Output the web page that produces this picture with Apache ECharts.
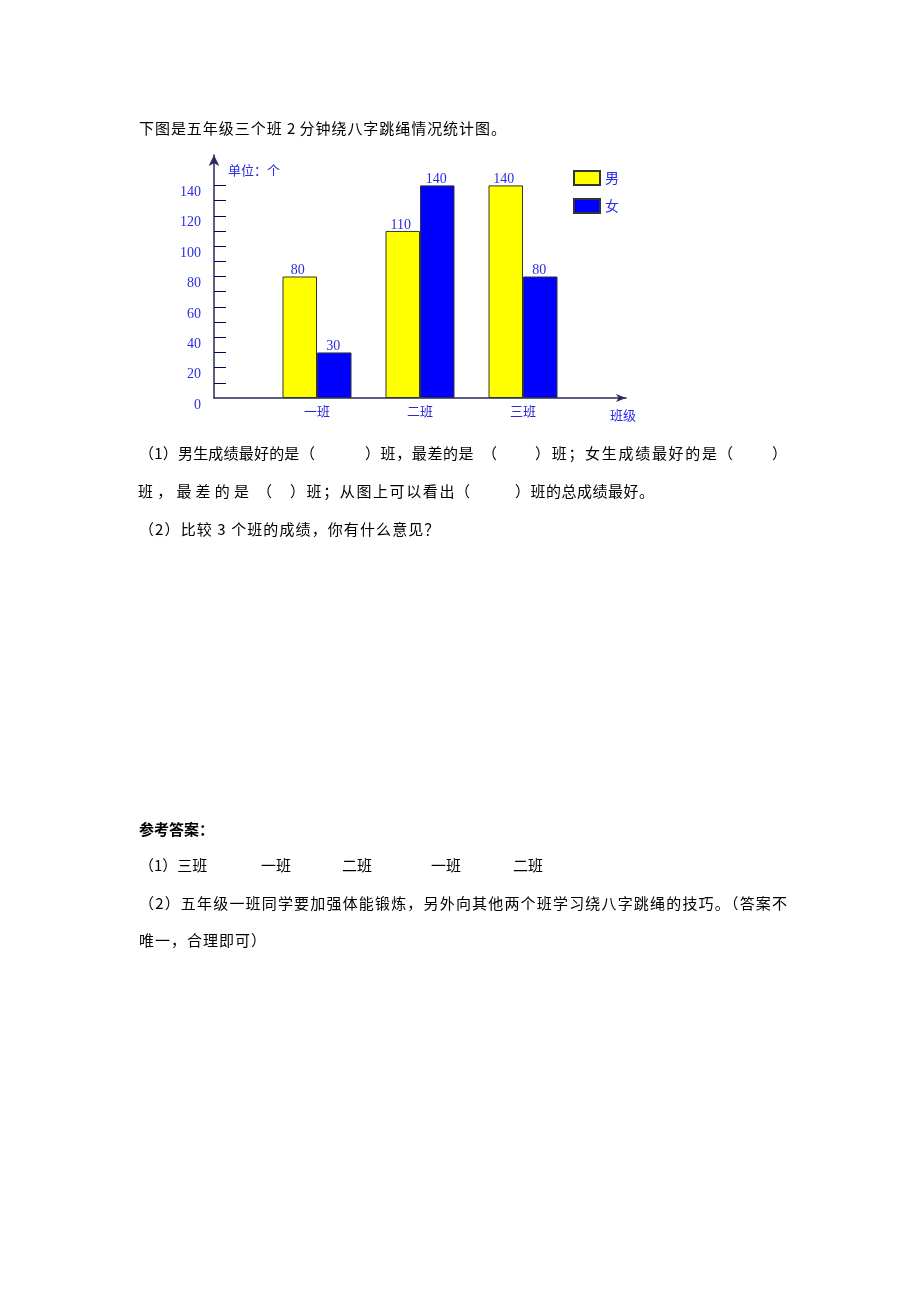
<!DOCTYPE html>
<html><head><meta charset="utf-8">
<script src="https://cdn.jsdelivr.net/npm/echarts@6/dist/echarts.min.js"></script>
<style>
html,body{margin:0;padding:0;background:#fff;}
#page{position:relative;width:920px;height:1302px;overflow:hidden;background:#fff;}
#chart{position:absolute;left:0;top:0;width:920px;height:1302px;}
.t{position:absolute;font-family:"Noto Sans CJK SC",sans-serif;font-size:15px;line-height:20px;color:#000;white-space:pre;}
.j{text-align:justify;text-align-last:justify;white-space:normal;}
</style></head><body>
<div id="page"><div id="chart"></div></div>
<script>
// ---- data ----
const classes = ['一班', '二班', '三班'];
const boys = [80, 110, 140];
const girls = [30, 140, 80];
const seriesNames = ['男', '女'];
const yTickLabels = [0, 20, 40, 60, 80, 100, 120, 140];
const yTicks = [10, 20, 30, 40, 50, 60, 70, 80, 90, 100, 110, 120, 130, 140];
const unitText = '单位：个';
const xName = '班级';

// ---- document text (text, left, centerY, justifyWidth, letterSpacing, bold) ----
const docText = [
  ['下图是五年级三个班 2 分钟绕八字跳绳情况统计图。', 139, 128, 367, 0],
  ['（1）男生成绩最好的是', 139, 453, 0, 0.2],
  ['（', 300, 453, 0, 0],
  ['）班，最差的是', 365, 453, 0, 0.6],
  ['（', 482, 453, 0, 0],
  ['）班；女生成绩最好的是', 535, 453, 0, 1.7],
  ['（', 718, 453, 0, 0],
  ['）', 772, 453, 0, 0],
  ['班，最差的是', 138, 491, 0, 4.2],
  ['（', 257, 491, 0, 0],
  ['）班；从图上可以看出', 290, 491, 0, 1.6],
  ['（', 455, 491, 0, 0],
  ['）班的总成绩最好。', 515, 491, 0, 0.5],
  ['（2）比较 3 个班的成绩，你有什么意见？', 139, 529, 0, 1.1],
  ['参考答案：', 139, 829, 0, 0, true],
  ['（1）三班', 139, 865, 0, 0],
  ['一班', 261, 865, 0, 0],
  ['二班', 342, 865, 0, 0],
  ['一班', 431, 865, 0, 0],
  ['二班', 513, 865, 0, 0],
  ['（2）五年级一班同学要加强体能锻炼，另外向其他两个班学习绕八字跳绳的技巧。（答案不', 139, 903, 648, 0],
  ['唯一，合理即可）', 139, 940, 0, 1]
];
const page = document.getElementById('page');
docText.forEach(([s, x, y, w, ls, b]) => {
  const d = document.createElement('div');
  d.className = 't' + (w ? ' j' : '');
  d.textContent = s;
  d.style.left = x + 'px';
  d.style.top = (y - 10) + 'px';
  if (w) d.style.width = w + 'px';
  if (ls) d.style.letterSpacing = ls + 'px';
  if (b) d.style.fontWeight = 'bold';
  page.appendChild(d);
});

// ---- chart ----
const cats = [''].concat(classes, ['']);
const pad = a => ['-'].concat(a, ['-']);
const blue = '#2b2be6';
const axisCol = '#2a2a5c';
const chart = echarts.init(document.getElementById('chart'), null, {renderer: 'canvas'});
chart.setOption({
  animation: false,
  backgroundColor: 'transparent',
  grid: {left: 214, right: 294, top: 155, bottom: 904, containLabel: false},
  legend: {
    data: seriesNames, orient: 'vertical', left: 568, top: 165,
    itemWidth: 26, itemHeight: 14, itemGap: 12, icon: 'rect',
    textStyle: {color: blue, fontSize: 14, fontFamily: 'Noto Sans CJK SC'}
  },
  xAxis: {
    type: 'category', data: cats, boundaryGap: false,
    axisLine: {show: true, symbol: ['none', 'arrow'], symbolSize: [6, 10],
      lineStyle: {color: axisCol, width: 1.5}},
    axisTick: {show: false},
    axisLabel: {interval: 0, margin: 7, color: '#2a2ad0', fontSize: 13, fontFamily: 'Noto Sans CJK SC'},
    splitLine: {show: false}
  },
  yAxis: {
    type: 'value', min: 0, max: 160, interval: 10,
    axisLine: {show: true, symbol: ['none', 'arrow'], symbolSize: [8, 11],
      lineStyle: {color: axisCol, width: 1.5}},
    axisTick: {show: true, inside: true, length: 12, customValues: yTicks,
      lineStyle: {color: '#000066', width: 1}},
    axisLabel: {customValues: yTickLabels, verticalAlign: 'top', margin: 13,
      color: blue, fontSize: 14, fontFamily: 'Liberation Serif'},
    splitLine: {show: false}
  },
  graphic: [
    {type: 'text', left: 228, top: 164,
      style: {text: unitText, fill: blue, font: '13px "Noto Sans CJK SC"'}},
    {type: 'text', left: 610, top: 409,
      style: {text: xName, fill: blue, font: '13px "Noto Sans CJK SC"'}}
  ],
  series: [
    {name: seriesNames[0], type: 'bar', data: pad(boys), barWidth: 34.5, barGap: '0%',
      itemStyle: {color: '#FFFF00', borderColor: '#333333', borderWidth: 1},
      label: {show: true, position: 'top', distance: 0, offset: [-2, 1], color: blue, fontSize: 14, fontFamily: 'Liberation Serif'}},
    {name: seriesNames[1], type: 'bar', data: pad(girls), barWidth: 34.5, barGap: '0%',
      itemStyle: {color: '#0000FF', borderColor: '#333333', borderWidth: 1},
      label: {show: true, position: 'top', distance: 0, offset: [-1, 1], color: blue, fontSize: 14, fontFamily: 'Liberation Serif'}}
  ]
});
</script>
</body></html>
